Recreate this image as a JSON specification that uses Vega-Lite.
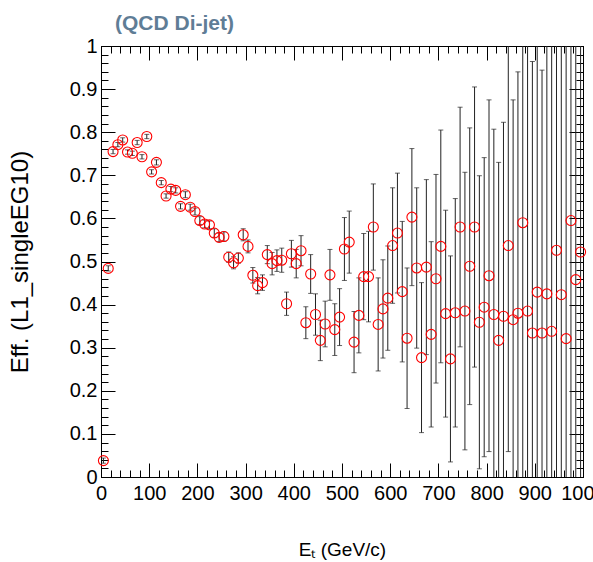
{
  "$schema": "https://vega.github.io/schema/vega-lite/v6.json",
  "autosize": "none",
  "width": 482,
  "height": 431,
  "padding": {"left": 101, "top": 46, "right": 10, "bottom": 85},
  "background": "white",
  "title": {
    "text": "(QCD Di-jet)",
    "anchor": "start",
    "frame": "group",
    "dx": 14,
    "dy": 25,
    "offset": 10,
    "baseline": "alphabetic",
    "font": "Liberation Sans",
    "fontSize": 21,
    "fontWeight": "bold",
    "color": "#5f7d96"
  },
  "config": {
    "view": {"stroke": "black", "strokeWidth": 1},
    "axis": {
      "grid": false,
      "domain": true,
      "domainColor": "black",
      "domainWidth": 1,
      "tickColor": "black",
      "tickWidth": 1,
      "labelFont": "Liberation Sans",
      "labelFontSize": 20,
      "labelColor": "black",
      "labelOverlap": false,
      "labelFlush": false,
      "titleFont": "Liberation Sans",
      "titleFontWeight": "normal",
      "titleColor": "black"
    }
  },
  "data": {
    "values": [
      {"et": 5, "eff": 0.038, "lo": 0.032, "hi": 0.044},
      {"et": 15, "eff": 0.484, "lo": 0.478, "hi": 0.490},
      {"et": 25, "eff": 0.755, "lo": 0.750, "hi": 0.760},
      {"et": 35, "eff": 0.771, "lo": 0.766, "hi": 0.776},
      {"et": 45, "eff": 0.782, "lo": 0.777, "hi": 0.787},
      {"et": 55, "eff": 0.754, "lo": 0.749, "hi": 0.759},
      {"et": 65, "eff": 0.751, "lo": 0.746, "hi": 0.756},
      {"et": 75, "eff": 0.776, "lo": 0.771, "hi": 0.781},
      {"et": 85, "eff": 0.743, "lo": 0.738, "hi": 0.748},
      {"et": 95, "eff": 0.790, "lo": 0.785, "hi": 0.795},
      {"et": 105, "eff": 0.708, "lo": 0.703, "hi": 0.713},
      {"et": 115, "eff": 0.730, "lo": 0.724, "hi": 0.736},
      {"et": 125, "eff": 0.683, "lo": 0.678, "hi": 0.688},
      {"et": 135, "eff": 0.652, "lo": 0.647, "hi": 0.657},
      {"et": 145, "eff": 0.668, "lo": 0.662, "hi": 0.674},
      {"et": 155, "eff": 0.665, "lo": 0.659, "hi": 0.671},
      {"et": 165, "eff": 0.628, "lo": 0.622, "hi": 0.634},
      {"et": 175, "eff": 0.655, "lo": 0.648, "hi": 0.662},
      {"et": 185, "eff": 0.626, "lo": 0.619, "hi": 0.633},
      {"et": 195, "eff": 0.616, "lo": 0.608, "hi": 0.624},
      {"et": 205, "eff": 0.595, "lo": 0.586, "hi": 0.604},
      {"et": 215, "eff": 0.587, "lo": 0.578, "hi": 0.596},
      {"et": 225, "eff": 0.585, "lo": 0.576, "hi": 0.594},
      {"et": 235, "eff": 0.566, "lo": 0.556, "hi": 0.576},
      {"et": 245, "eff": 0.556, "lo": 0.546, "hi": 0.566},
      {"et": 255, "eff": 0.558, "lo": 0.547, "hi": 0.569},
      {"et": 265, "eff": 0.510, "lo": 0.498, "hi": 0.522},
      {"et": 275, "eff": 0.497, "lo": 0.483, "hi": 0.511},
      {"et": 285, "eff": 0.508, "lo": 0.496, "hi": 0.520},
      {"et": 295, "eff": 0.562, "lo": 0.548, "hi": 0.576},
      {"et": 305, "eff": 0.535, "lo": 0.520, "hi": 0.550},
      {"et": 315, "eff": 0.468, "lo": 0.450, "hi": 0.486},
      {"et": 325, "eff": 0.444, "lo": 0.425, "hi": 0.463},
      {"et": 335, "eff": 0.451, "lo": 0.433, "hi": 0.469},
      {"et": 345, "eff": 0.516, "lo": 0.495, "hi": 0.537},
      {"et": 355, "eff": 0.495, "lo": 0.469, "hi": 0.521},
      {"et": 365, "eff": 0.502, "lo": 0.477, "hi": 0.527},
      {"et": 375, "eff": 0.503, "lo": 0.475, "hi": 0.531},
      {"et": 385, "eff": 0.402, "lo": 0.375, "hi": 0.429},
      {"et": 395, "eff": 0.518, "lo": 0.487, "hi": 0.549},
      {"et": 405, "eff": 0.495, "lo": 0.462, "hi": 0.528},
      {"et": 415, "eff": 0.525, "lo": 0.490, "hi": 0.560},
      {"et": 425, "eff": 0.358, "lo": 0.321, "hi": 0.395},
      {"et": 435, "eff": 0.471, "lo": 0.426, "hi": 0.516},
      {"et": 445, "eff": 0.377, "lo": 0.329, "hi": 0.425},
      {"et": 455, "eff": 0.317, "lo": 0.270, "hi": 0.364},
      {"et": 465, "eff": 0.355, "lo": 0.302, "hi": 0.408},
      {"et": 475, "eff": 0.469, "lo": 0.410, "hi": 0.528},
      {"et": 485, "eff": 0.342, "lo": 0.282, "hi": 0.402},
      {"et": 495, "eff": 0.371, "lo": 0.305, "hi": 0.437},
      {"et": 505, "eff": 0.529, "lo": 0.456, "hi": 0.602},
      {"et": 515, "eff": 0.545, "lo": 0.473, "hi": 0.617},
      {"et": 525, "eff": 0.313, "lo": 0.242, "hi": 0.384},
      {"et": 535, "eff": 0.375, "lo": 0.288, "hi": 0.462},
      {"et": 545, "eff": 0.465, "lo": 0.365, "hi": 0.565},
      {"et": 555, "eff": 0.465, "lo": 0.360, "hi": 0.570},
      {"et": 565, "eff": 0.580, "lo": 0.480, "hi": 0.680},
      {"et": 575, "eff": 0.354, "lo": 0.246, "hi": 0.462},
      {"et": 585, "eff": 0.390, "lo": 0.276, "hi": 0.504},
      {"et": 595, "eff": 0.415, "lo": 0.294, "hi": 0.536},
      {"et": 605, "eff": 0.537, "lo": 0.403, "hi": 0.671},
      {"et": 615, "eff": 0.566, "lo": 0.427, "hi": 0.705},
      {"et": 625, "eff": 0.430, "lo": 0.267, "hi": 0.593},
      {"et": 635, "eff": 0.322, "lo": 0.159, "hi": 0.485},
      {"et": 645, "eff": 0.603, "lo": 0.444, "hi": 0.762},
      {"et": 655, "eff": 0.485, "lo": 0.299, "hi": 0.671},
      {"et": 665, "eff": 0.277, "lo": 0.103, "hi": 0.451},
      {"et": 675, "eff": 0.487, "lo": 0.284, "hi": 0.690},
      {"et": 685, "eff": 0.331, "lo": 0.116, "hi": 0.546},
      {"et": 695, "eff": 0.460, "lo": 0.218, "hi": 0.702},
      {"et": 705, "eff": 0.535, "lo": 0.265, "hi": 0.805},
      {"et": 715, "eff": 0.379, "lo": 0.139, "hi": 0.619},
      {"et": 725, "eff": 0.274, "lo": 0.035, "hi": 0.513},
      {"et": 735, "eff": 0.381, "lo": 0.116, "hi": 0.646},
      {"et": 745, "eff": 0.580, "lo": 0.302, "hi": 0.858},
      {"et": 755, "eff": 0.385, "lo": 0.063, "hi": 0.707},
      {"et": 765, "eff": 0.489, "lo": 0.168, "hi": 0.810},
      {"et": 775, "eff": 0.580, "lo": 0.255, "hi": 0.905},
      {"et": 785, "eff": 0.359, "lo": 0.019, "hi": 0.699},
      {"et": 795, "eff": 0.394, "lo": 0.047, "hi": 0.741},
      {"et": 805, "eff": 0.467, "lo": 0.059, "hi": 0.875},
      {"et": 815, "eff": 0.377, "lo": -0.053, "hi": 0.807},
      {"et": 825, "eff": 0.317, "lo": -0.096, "hi": 0.730},
      {"et": 835, "eff": 0.373, "lo": -0.077, "hi": 0.823},
      {"et": 845, "eff": 0.537, "lo": 0.059, "hi": 1.015},
      {"et": 855, "eff": 0.365, "lo": -0.145, "hi": 0.875},
      {"et": 865, "eff": 0.380, "lo": -0.180, "hi": 0.940},
      {"et": 875, "eff": 0.590, "lo": -0.030, "hi": 1.210},
      {"et": 885, "eff": 0.385, "lo": -0.235, "hi": 1.005},
      {"et": 895, "eff": 0.334, "lo": -0.296, "hi": 0.964},
      {"et": 905, "eff": 0.429, "lo": -0.191, "hi": 1.049},
      {"et": 915, "eff": 0.334, "lo": -0.276, "hi": 0.944},
      {"et": 925, "eff": 0.425, "lo": -0.195, "hi": 1.045},
      {"et": 935, "eff": 0.338, "lo": -0.342, "hi": 1.018},
      {"et": 945, "eff": 0.526, "lo": -0.094, "hi": 1.146},
      {"et": 955, "eff": 0.423, "lo": -0.197, "hi": 1.043},
      {"et": 965, "eff": 0.321, "lo": -0.379, "hi": 1.021},
      {"et": 975, "eff": 0.595, "lo": -0.025, "hi": 1.215},
      {"et": 985, "eff": 0.458, "lo": -0.162, "hi": 1.078},
      {"et": 995, "eff": 0.522, "lo": -0.098, "hi": 1.142}
    ]
  },
  "resolve": {"axis": {"x": "independent", "y": "independent"}},
  "layer": [
    {
      "mark": {"type": "rule", "color": "#222222", "strokeWidth": 1, "clip": true},
      "encoding": {
        "x": {
          "field": "et", "type": "quantitative",
          "scale": {"domain": [0, 1000], "nice": false, "zero": false},
          "axis": {
            "orient": "bottom",
            "values": [0,20,40,60,80,100,120,140,160,180,200,220,240,260,280,300,320,340,360,380,400,420,440,460,480,500,520,540,560,580,600,620,640,660,680,700,720,740,760,780,800,820,840,860,880,900,920,940,960,980,1000],
            "format": "d",
            "labelExpr": "datum.value % 100 === 0 ? datum.label : ''",
            "tickSize": {"condition": {"test": "datum.value % 100 === 0", "value": -14}, "value": -7},
            "labelPadding": 20,
            "title": "Eₜ (GeV/c)",
            "titleFontSize": 19,
            "titlePadding": 30
          }
        },
        "y": {
          "field": "lo", "type": "quantitative",
          "scale": {"domain": [0, 1], "nice": false, "zero": false},
          "axis": {
            "orient": "left",
            "values": [0,0.02,0.04,0.06,0.08,0.1,0.12,0.14,0.16,0.18,0.2,0.22,0.24,0.26,0.28,0.3,0.32,0.34,0.36,0.38,0.4,0.42,0.44,0.46,0.48,0.5,0.52,0.54,0.56,0.58,0.6,0.62,0.64,0.66,0.68,0.7,0.72,0.74,0.76,0.78,0.8,0.82,0.84,0.86,0.88,0.9,0.92,0.94,0.96,0.98,1],
            "format": ".1~f",
            "labelExpr": "round(datum.value * 100) % 10 === 0 ? datum.label : ''",
            "tickSize": {"condition": {"test": "round(datum.value * 100) % 10 === 0", "value": -14}, "value": -7},
            "labelPadding": 18,
            "title": "Eff. (L1_singleEG10)",
            "titleFontSize": 24,
            "titlePadding": 37
          }
        },
        "y2": {"field": "hi"}
      }
    },
    {
      "mark": {"type": "tick", "orient": "horizontal", "color": "#222222", "size": 5, "thickness": 1, "clip": true},
      "encoding": {
        "x": {"field": "et", "type": "quantitative", "scale": {"domain": [0, 1000], "nice": false, "zero": false}, "axis": null},
        "y": {"field": "lo", "type": "quantitative", "scale": {"domain": [0, 1], "nice": false, "zero": false}, "axis": null}
      }
    },
    {
      "mark": {"type": "tick", "orient": "horizontal", "color": "#222222", "size": 5, "thickness": 1, "clip": true},
      "encoding": {
        "x": {"field": "et", "type": "quantitative", "scale": {"domain": [0, 1000], "nice": false, "zero": false}, "axis": null},
        "y": {"field": "hi", "type": "quantitative", "scale": {"domain": [0, 1], "nice": false, "zero": false}, "axis": null}
      }
    },
    {
      "mark": {"type": "point", "shape": "circle", "filled": false, "color": "#ff0000", "size": 100, "strokeWidth": 1.1, "opacity": 1},
      "encoding": {
        "x": {
          "field": "et", "type": "quantitative",
          "scale": {"domain": [0, 1000], "nice": false, "zero": false},
          "axis": {
            "orient": "top",
            "values": [0,20,40,60,80,100,120,140,160,180,200,220,240,260,280,300,320,340,360,380,400,420,440,460,480,500,520,540,560,580,600,620,640,660,680,700,720,740,760,780,800,820,840,860,880,900,920,940,960,980,1000],
            "labels": false,
            "tickSize": {"condition": {"test": "datum.value % 100 === 0", "value": -14}, "value": -7},
            "title": null
          }
        },
        "y": {
          "field": "eff", "type": "quantitative",
          "scale": {"domain": [0, 1], "nice": false, "zero": false},
          "axis": {
            "orient": "right",
            "values": [0,0.02,0.04,0.06,0.08,0.1,0.12,0.14,0.16,0.18,0.2,0.22,0.24,0.26,0.28,0.3,0.32,0.34,0.36,0.38,0.4,0.42,0.44,0.46,0.48,0.5,0.52,0.54,0.56,0.58,0.6,0.62,0.64,0.66,0.68,0.7,0.72,0.74,0.76,0.78,0.8,0.82,0.84,0.86,0.88,0.9,0.92,0.94,0.96,0.98,1],
            "labels": false,
            "tickSize": {"condition": {"test": "round(datum.value * 100) % 10 === 0", "value": -14}, "value": -7},
            "title": null
          }
        }
      }
    }
  ]
}
